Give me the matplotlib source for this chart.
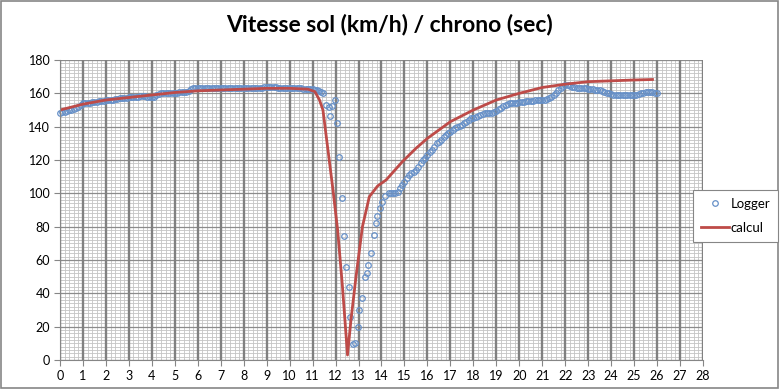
import numpy as np
import matplotlib.pyplot as plt
from matplotlib.patches import Rectangle

# Logger data (km/h), 0.1 s sampling before and after the dip
logger_pre = [
    148.5, 149, 149, 149.5, 150, 150, 150.5, 151, 152, 153,
    154, 154, 154.5, 154.5, 155, 155, 155, 155.5, 155.5, 155.5,
    156, 156, 156, 156, 156.5, 156.5, 157, 157, 157.5, 157.5,
    158, 158, 158, 158, 158, 158.5, 158.5, 158.5, 158, 158,
    158, 158, 159, 159.5, 160, 160, 160, 160, 160.5, 160.5,
    160.5, 160.5, 161, 161, 161, 161, 161.5, 162.5, 163, 163,
    163, 163, 163, 163, 163, 163, 163, 163, 163, 163,
    163, 163, 163, 163, 163, 163, 163, 163, 163, 163,
    163, 163, 163, 163, 163, 163, 163.5, 163.5, 163.5, 164,
    164, 164, 164, 164, 164, 163.5, 163.5, 163.5, 163.5, 163,
    163, 163, 163, 163, 163, 163, 162.5, 162.5, 162.5, 162.5,
    162.5, 162, 162, 161.5,
]
t_pre = np.round(np.arange(len(logger_pre)) * 0.1, 1)

t_dip = [11.37, 11.45, 11.58, 11.73, 11.76, 11.84, 11.97, 12.06, 12.13, 12.26,
         12.35, 12.45, 12.57, 12.64, 12.77, 12.86, 12.96, 13.04, 13.13, 13.29,
         13.35, 13.43, 13.56, 13.67, 13.74, 13.81, 13.94, 14.04, 14.16, 14.33, 14.42]
logger_dip = [161, 160.4, 153, 152, 146.4, 152.4, 156, 142, 121.6, 97,
              74.6, 55.6, 44, 25.6, 9.4, 10.4, 20, 30, 37, 49.6,
              52, 56.8, 64, 75.2, 82, 86.4, 91, 95, 98.4, 100.4, 100]

logger_post = [
    100, 100, 101, 103, 105, 107, 109, 111, 112, 113,
    114, 116, 118, 120, 121, 123, 125, 126, 128, 130,
    131, 132, 134, 135, 136, 137, 138, 139, 140, 140.5,
    141, 142, 143, 144, 145, 145.5, 146, 146.5, 147, 147.5,
    148, 148, 148, 148.5, 149, 149.5, 150.5, 151.5, 152.5, 153,
    153.5, 154, 154, 154.5, 154.5, 155, 155, 155, 155.5, 155.5,
    155.5, 155.5, 156, 156, 156, 156, 156, 156.5, 157, 158,
    159, 160.5, 162, 163.5, 164.5, 165, 165, 164.5, 164, 164,
    163.5, 163.5, 163, 163, 163, 162.5, 162.5, 162.5, 162, 162,
    162, 161.5, 161, 160.5, 160, 159.5, 159, 159, 159, 159,
    159, 159, 159, 159, 159, 159, 159, 159.5, 160, 160.5,
    161, 161, 161, 161, 160.5, 160.5,
]
t_post = np.round(14.5 + np.arange(len(logger_post)) * 0.1, 1)

t_logger = np.concatenate([t_pre, t_dip, t_post])
v_logger = np.concatenate([logger_pre, logger_dip, logger_post])

# calculated speed
t_calc = [0, 1, 2, 3, 4, 5, 6, 7, 8, 9, 10, 10.8, 11.1, 11.3, 11.45, 11.65,
          11.87, 12.09, 12.3, 12.52, 12.67, 12.89, 13.17, 13.47, 13.83, 14.2,
          14.91, 15.5, 16, 17, 18, 19, 20, 21, 22, 23, 24, 25, 25.8]
v_calc = [150, 153.5, 156, 157.5, 159, 160.5, 161.5, 162, 162.5, 163, 163, 162.5,
          161, 156, 150, 128, 104, 78, 44, 3, 24, 50, 80, 98, 104.4, 108,
          119, 127, 133, 143, 150, 156, 160, 163.5, 165.5, 167, 167.5, 168, 168.3]

plt.rcParams['font.family'] = ['Lato', 'DejaVu Sans']

fig = plt.figure(figsize=(7.8, 3.89), dpi=100)
ax = fig.add_axes([60/780, 1-360/389, 643/780, 300/389])

ax.set_xlim(0, 28)
ax.set_ylim(0, 180)
ax.set_xticks(np.arange(0, 29, 1))
ax.set_xticks(np.arange(0, 28.01, 0.2), minor=True)
ax.set_yticks(np.arange(0, 181, 20))
ax.set_yticks(np.arange(0, 181, 2), minor=True)

# fine grid underneath, heavier lines on the major ticks drawn on top of it
ax.grid(which='minor', axis='both', color='#c4c4c4', linewidth=0.6)
ax.set_axisbelow(True)
ax.hlines(ax.get_yticks(), 0, 28, color='#8c8c8c', linewidth=0.9, zorder=0.7)
ax.vlines(ax.get_xticks(), 0, 180, color='#808080', linewidth=1.7, zorder=0.8)

ax.tick_params(which='minor', length=0)
ax.tick_params(which='major', length=4, color='#868686', labelsize=9, pad=3)
for side in ['top', 'right']:
    ax.spines[side].set_visible(False)
for side in ['left', 'bottom']:
    ax.spines[side].set_color('#868686')

ax.plot(t_logger, v_logger, linestyle='none', marker='o', markersize=4.0,
        markerfacecolor='none', markeredgecolor='#6690c8', markeredgewidth=0.9,
        label='Logger', clip_on=False)
ax.plot(t_calc, v_calc, color='#be4b48', linewidth=2.0, label='calcul')

fig.suptitle('Vitesse sol (km/h) / chrono (sec)', fontsize=16.5, fontweight='bold', y=0.965)

leg = fig.legend(loc='upper left', bbox_to_anchor=(693/780, 1-190/389), fontsize=9.5,
                 frameon=True, fancybox=False, edgecolor='#868686', framealpha=1,
                 handlelength=2.1, handletextpad=0.15, borderpad=0.6,
                 borderaxespad=0, labelspacing=0.9)
leg.get_frame().set_linewidth(0.8)

fig.patches.append(Rectangle((0.001, 0.002), 0.997, 0.995, transform=fig.transFigure,
                             fill=False, edgecolor='#868686', linewidth=1.2))

fig.savefig('out.png', dpi=100)
